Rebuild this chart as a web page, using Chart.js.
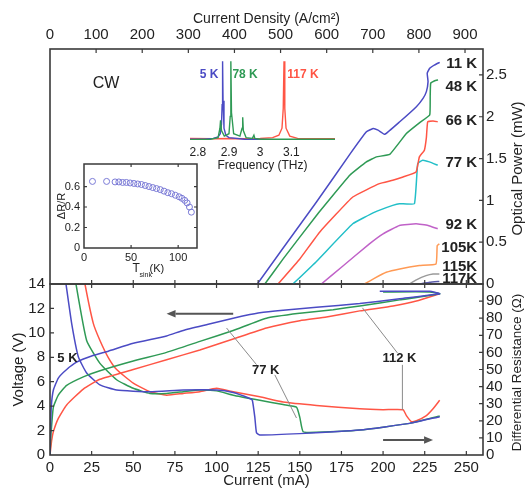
<!DOCTYPE html>
<html>
<head>
<meta charset="utf-8">
<script src="https://cdn.jsdelivr.net/npm/chart.js@4/dist/chart.umd.min.js"></script>
<style>
  html, body { margin: 0; padding: 0; background: #fff; }
  #wrap { position: relative; width: 528px; height: 493px; }
  #wrap canvas { position: absolute; left: 0; top: 0; }
</style>
</head>
<body>
<div id="wrap">
  <canvas id="panelLow" width="528" height="493"></canvas>
  <canvas id="panelHigh" width="528" height="493"></canvas>
  <canvas id="insetSpectrum" width="528" height="493"></canvas>
  <canvas id="insetDrr" width="528" height="493"></canvas>
</div>
<script>
// ---------- Bottom panel: voltage (V) and differential resistance (Ohm) vs current (mA) ----------
const voltage5K = [[0,0],[0.3,2],[0.8,4],[2,5.3],[5,6.3],[10,7.0],[16,7.6],[25,8.1],[35,8.5],[50,9.15],[70,9.75],[80,10.2],[95,10.7],[110,11.2],[120,11.5],[126,11.65],[140,11.85],[160,12.1],[186,12.4],[210,12.8],[234,13.2],[228,13.4],[198,13.4]];
const voltage77K = [[0,0],[0.5,1.5],[2,3.9],[5,4.9],[10,5.7],[20,6.4],[30,6.9],[50,7.7],[70,8.4],[90,9.3],[110,10.2],[130,11.2],[150,11.6],[170,11.9],[186,12.2],[210,12.7],[234,13.2],[228,13.35],[200,13.35]];
const voltage112K = [[0,0],[1,1.2],[2,1.9],[5,3.0],[10,4.1],[20,5.4],[30,6.2],[50,7.0],[70,7.8],[90,8.6],[110,9.5],[130,10.4],[150,11.0],[166,11.3],[186,11.8],[206,12.2],[220,12.6],[234,13.2]];
const resistance5K = [[7,118],[9.6,100],[13,77],[17,57.5],[22,48],[30,41],[40,38],[60,37],[80,38],[100,38],[110,36.5],[120,33],[121.5,32],[123,22],[124,13],[126,11.7],[150,12.5],[186,14.6],[216,18.5],[234,22.4]];
const resistance77K = [[13,118],[15.6,100],[22,67],[30,53.6],[40,44],[50,39],[60,36],[70,36],[80,37],[90,38],[100,37.5],[110,35],[126,32],[140,29.5],[148,28],[150,22],[152,13.6],[160,13.3],[186,14.6],[216,18.5],[234,22.8]];
const resistance112K = [[18,118],[21,100],[26,77],[30,67],[35,57],[40,50],[50,42],[60,37],[70,35],[80,36],[90,37],[100,39],[110,37],[126,34],[140,31],[160,29],[186,27],[200,26.5],[212,26.5],[214,23],[217,19.5],[220,20],[226,23],[230,27],[234,32]];

// ---------- Top panel: CW optical power (mW) vs current (mA) ----------
const power11K = [[124.5,0],[140,0.43],[160,0.98],[180,1.55],[190,1.82],[194,1.86],[197,1.84],[201,1.79],[210,1.94],[220,2.12],[224,2.22],[226,2.3],[227,2.42],[226.5,2.52],[228,2.58],[231,2.62],[234,2.65]];
const power48K = [[129,0],[140,0.3],[160,0.82],[180,1.3],[190,1.46],[196,1.52],[204,1.55],[214,1.8],[222,1.93],[228,2.02],[228.3,2.25],[228.6,2.4],[231,2.43],[233,2.44]];
const power66K = [[136.9,0],[150,0.3],[161.9,0.62],[181.8,1.04],[197.8,1.2],[205.8,1.24],[212,1.28],[219.8,1.34],[221.8,1.52],[224.8,1.6],[226,1.75],[226.8,1.94],[230,1.95],[232.8,1.94]];
const power77K = [[145.9,0],[160,0.27],[181.8,0.72],[195,0.86],[205.8,0.94],[209.8,0.96],[218.8,0.96],[220.8,1.44],[223.8,1.48],[227.8,1.46],[232.8,1.42]];
const power92K = [[162.9,0],[175,0.2],[191.8,0.48],[200,0.6],[209.8,0.7],[219.8,0.72],[227,0.7],[232.8,0.66]];
const power105K = [[188.8,0],[195,0.07],[201.9,0.14],[210,0.18],[221.8,0.22],[231.8,0.24],[232.5,0.46],[233.8,0.48]];
const power115K = [[215.8,0],[220,0.05],[225.8,0.1],[230,0.12],[233.8,0.12]];
const power117K = [[222,0],[228,0.02],[233.8,0.03]];
const powerLabels = ['11 K','48 K','66 K','77 K','92 K','105K','115K','117K'];
const powerLabelLevels = [2.63, 2.36, 1.95, 1.45, 0.71, 0.43, 0.21, 0.06];

// ---------- Inset: emission spectra (normalised) vs frequency (THz) ----------
const spectrum5K = [[2.775,0.01],[2.82,0.01],[2.85,0.02],[2.865,0.04],[2.872,0.08],[2.876,0.2],[2.878,0.45],[2.8795,1.0],[2.881,0.5],[2.884,0.15],[2.89,0.06],[2.9,0.03],[2.95,0.01],[3.05,0.005],[3.24,0.005]];
const spectrum78K = [[2.775,0.005],[2.84,0.01],[2.865,0.03],[2.871,0.15],[2.873,0.25],[2.876,0.12],[2.885,0.05],[2.9,0.08],[2.904,0.3],[2.906,1.0],[2.908,0.35],[2.915,0.08],[2.935,0.05],[2.942,0.15],[2.944,0.29],[2.946,0.12],[2.955,0.03],[2.975,0.02],[2.98,0.06],[2.983,0.02],[3.0,0.01],[3.24,0.01]];
const spectrum117K = [[2.775,0.02],[2.85,0.015],[2.9,0.02],[2.95,0.015],[3.0,0.02],[3.04,0.03],[3.06,0.06],[3.07,0.15],[3.074,0.4],[3.0765,1.0],[3.079,0.4],[3.083,0.15],[3.095,0.05],[3.12,0.02],[3.2,0.015],[3.24,0.015]];
const spectrumLabels = ['5 K','78 K','117 K'];

// ---------- Inset: Delta R / R vs heat-sink temperature (K) ----------
const sinkTemps = [9,24,33,37,41,45,49,53,57,61,65,69,73,77,81,85,89,93,97,101,104,107,109.5,112,114];
const deltaROverR = [0.65,0.65,0.645,0.645,0.64,0.64,0.635,0.63,0.625,0.62,0.61,0.60,0.59,0.58,0.57,0.555,0.54,0.53,0.515,0.50,0.485,0.465,0.44,0.40,0.35];

// ---------- colours / fonts ----------
const FONT = "'Liberation Sans', Arial, Helvetica, sans-serif";
const INK = '#222';
const FRAME = '#3a3a3a';
const C = {
  blue: '#4b4bc4', green: '#2f9a55', red: '#ff5545', cyan: '#22bfc8',
  magenta: '#c062c8', orange: '#ff9a55', gray: '#9a9a9a', slate: '#5a5aa8', ring: '#7a7ad6'
};
Chart.defaults.font.family = FONT;
Chart.defaults.color = INK;

// annotation text, leader lines and arrows of the bottom panel (in data units)
const lowNotes = {
  labels: [{ text: '5 K', x: 10.5, y: 7.9 }, { text: '77 K', x: 129.5, y: 6.9 }, { text: '112 K', x: 209.8, y: 7.87 }],
  leaders: [[106, 10.4, 124, 7.4], [135, 6.56, 148, 3.03], [208.6, 8.36, 187.6, 12.05], [211.6, 7.38, 211.6, 3.69]],
  arrowV: [110, 11.56, 70, 11.56],
  arrowR: [200, 8.8, 230, 8.8]
};

const pts = arr => arr.map(([x, y]) => ({ x, y }));
const xy = (xs, ys) => xs.map((x, i) => ({ x, y: ys[i] }));

function line(data, color, xID, yID, extra) {
  return Object.assign({
    data: pts(data), borderColor: color, backgroundColor: color, borderWidth: 1.5,
    showLine: true, pointRadius: 0, tension: 0.15, xAxisID: xID, yAxisID: yID
  }, extra || {});
}

function drawFrame(ctx, a, w) {
  ctx.save();
  ctx.strokeStyle = FRAME; ctx.lineWidth = w || 1.6;
  ctx.strokeRect(a.left, a.top, a.right - a.left, a.bottom - a.top);
  ctx.restore();
}
function innerTicks(scale) {
  return scale.ticks.map(t => t.value).filter(v => v > scale.min + 1e-9 && v < scale.max - 1e-9);
}
function drawTicks(ctx, scale, a, edge, len) {
  ctx.save();
  ctx.strokeStyle = FRAME; ctx.lineWidth = 1.2;
  ctx.beginPath();
  for (const v of innerTicks(scale)) {
    const p = scale.getPixelForValue(v);
    if (edge === 'bottom') { ctx.moveTo(p, a.bottom); ctx.lineTo(p, a.bottom - len); }
    else if (edge === 'top') { ctx.moveTo(p, a.top); ctx.lineTo(p, a.top + len); }
    else if (edge === 'left') { ctx.moveTo(a.left, p); ctx.lineTo(a.left + len, p); }
    else { ctx.moveTo(a.right, p); ctx.lineTo(a.right - len, p); }
  }
  ctx.stroke();
  ctx.restore();
}
function verticalText(ctx, text, x, y, font) {
  ctx.save();
  ctx.translate(x, y); ctx.rotate(-Math.PI / 2);
  ctx.font = font; ctx.fillStyle = INK; ctx.textAlign = 'center'; ctx.textBaseline = 'middle';
  ctx.fillText(text, 0, 0);
  ctx.restore();
}
function arrow(ctx, x1, y1, x2, y2) {
  const ang = Math.atan2(y2 - y1, x2 - x1), L = 9, W = 3.8;
  ctx.save();
  ctx.strokeStyle = '#555'; ctx.fillStyle = '#555'; ctx.lineWidth = 2;
  ctx.beginPath(); ctx.moveTo(x1, y1);
  ctx.lineTo(x2 - L * Math.cos(ang), y2 - L * Math.sin(ang)); ctx.stroke();
  ctx.beginPath(); ctx.moveTo(x2, y2);
  ctx.lineTo(x2 - L * Math.cos(ang) + W * Math.sin(ang), y2 - L * Math.sin(ang) - W * Math.cos(ang));
  ctx.lineTo(x2 - L * Math.cos(ang) - W * Math.sin(ang), y2 - L * Math.sin(ang) + W * Math.cos(ang));
  ctx.closePath(); ctx.fill();
  ctx.restore();
}

const base = {
  responsive: false, animation: false, events: [],
  plugins: { legend: { display: false }, tooltip: { enabled: false } }
};
const noGrid = { display: false, drawTicks: false };
const fixW = w => s => { s.width = w; };
const fixH = h => s => { s.height = h; };
const num = v => String(+Number(v).toFixed(2));

// ---------- bottom panel ----------
new Chart(document.getElementById('panelLow'), {
  type: 'scatter',
  data: { datasets: [
    line(voltage5K, C.blue, 'x', 'yV'), line(voltage77K, C.green, 'x', 'yV'), line(voltage112K, C.red, 'x', 'yV'),
    line(resistance5K, C.blue, 'x', 'yR'), line(resistance77K, C.green, 'x', 'yR'), line(resistance112K, C.red, 'x', 'yR')
  ] },
  options: Object.assign({}, base, {
    layout: { padding: { top: 284, left: 0, right: 0, bottom: 0 } },
    scales: {
      x: { type: 'linear', position: 'bottom', min: 0, max: 260, afterFit: fixH(38),
           grid: noGrid, border: { display: false },
           ticks: { stepSize: 25, includeBounds: false, autoSkip: false, padding: 4, font: { size: 15 }, color: INK, maxRotation: 0 },
           title: { display: true, text: 'Current (mA)', font: { size: 15 }, color: INK, padding: { top: 0, bottom: 3 } } },
      yV: { type: 'linear', position: 'left', min: 0, max: 14, afterFit: fixW(50),
            grid: noGrid, border: { display: false },
            ticks: { stepSize: 2, includeBounds: false, autoSkip: false, padding: 5, font: { size: 15 }, color: INK, callback: num },
            title: { display: true, text: 'Voltage (V)', font: { size: 15 }, color: INK, padding: { top: 10, bottom: 0 } } },
      yR: { type: 'linear', position: 'right', min: 0, max: 100, afterFit: fixW(45),
            grid: noGrid, border: { display: false },
            ticks: { stepSize: 10, includeBounds: false, autoSkip: false, padding: 3, font: { size: 15 }, color: INK,
                     callback: v => (v >= 100 ? null : num(v)) } }
    }
  }),
  plugins: [{
    id: 'lowDecor',
    afterDraw(chart) {
      const { ctx, chartArea: a, scales: { x, yV, yR } } = chart;
      drawFrame(ctx, a);
      drawTicks(ctx, x, a, 'bottom', 4);
      drawTicks(ctx, x, a, 'top', 4);
      drawTicks(ctx, yV, a, 'left', 4);
      drawTicks(ctx, yR, a, 'right', 4);
      ctx.save();
      ctx.strokeStyle = '#8a8a8a'; ctx.lineWidth = 1;
      ctx.beginPath();
      for (const [x1, y1, x2, y2] of lowNotes.leaders) {
        ctx.moveTo(x.getPixelForValue(x1), yV.getPixelForValue(y1));
        ctx.lineTo(x.getPixelForValue(x2), yV.getPixelForValue(y2));
      }
      ctx.stroke();
      ctx.font = 'bold 13px ' + FONT; ctx.fillStyle = INK; ctx.textAlign = 'center'; ctx.textBaseline = 'middle';
      for (const l of lowNotes.labels) ctx.fillText(l.text, x.getPixelForValue(l.x), yV.getPixelForValue(l.y));
      ctx.restore();
      const av = lowNotes.arrowV, ar = lowNotes.arrowR;
      arrow(ctx, x.getPixelForValue(av[0]), yV.getPixelForValue(av[1]), x.getPixelForValue(av[2]), yV.getPixelForValue(av[3]));
      arrow(ctx, x.getPixelForValue(ar[0]), yR.getPixelForValue(ar[1]), x.getPixelForValue(ar[2]), yR.getPixelForValue(ar[3]));
      verticalText(ctx, 'Differential Resistance (\u03A9)', 517, (a.top + a.bottom) / 2 + 3, '13.5px ' + FONT);
    }
  }]
});

// ---------- top panel ----------
const powerSeries = [power11K, power48K, power66K, power77K, power92K, power105K, power115K, power117K];
const powerColors = [C.blue, C.green, C.red, C.cyan, C.magenta, C.orange, C.gray, C.slate];
new Chart(document.getElementById('panelHigh'), {
  type: 'scatter',
  data: { datasets: powerSeries.map((s, i) => line(s, powerColors[i], 'x', 'yP', { tension: 0.1 })) },
  options: Object.assign({}, base, {
    layout: { padding: { top: 0, left: 50, right: 0, bottom: 209 } },
    scales: {
      x: { type: 'linear', position: 'bottom', min: 0, max: 260, display: false, ticks: { stepSize: 25, includeBounds: false, autoSkip: false } },
      xD: { type: 'linear', position: 'top', min: 0, max: 939, afterFit: fixH(49),
            grid: noGrid, border: { display: false },
            ticks: { stepSize: 100, includeBounds: false, autoSkip: false, padding: 5, font: { size: 15 }, color: INK, maxRotation: 0 },
            title: { display: true, text: 'Current Density (A/cm\u00B2)', font: { size: 14 }, color: INK, padding: { top: 11, bottom: 0 } } },
      yP: { type: 'linear', position: 'right', min: 0, max: 2.81, afterFit: fixW(45),
            grid: noGrid, border: { display: false },
            ticks: { stepSize: 0.5, includeBounds: false, autoSkip: false, padding: 3, font: { size: 15 }, color: INK, callback: num } }
    }
  }),
  plugins: [{
    id: 'highDecor',
    afterDraw(chart) {
      const { ctx, chartArea: a, scales: { x, xD, yP } } = chart;
      ctx.save();
      ctx.font = 'bold 15px ' + FONT; ctx.fillStyle = INK; ctx.textAlign = 'right'; ctx.textBaseline = 'middle';
      powerLabels.forEach((t, i) => ctx.fillText(t, x.getPixelForValue(256.5), yP.getPixelForValue(powerLabelLevels[i])));
      ctx.font = '16px ' + FONT; ctx.textAlign = 'center';
      ctx.fillText('CW', x.getPixelForValue(33.6), yP.getPixelForValue(2.4));
      ctx.restore();
      drawFrame(ctx, a);
      drawTicks(ctx, xD, a, 'top', 4);
      drawTicks(ctx, x, a, 'bottom', 4);
      drawTicks(ctx, yP, a, 'right', 4);
      verticalText(ctx, 'Optical Power (mW)', 518, (a.top + a.bottom) / 2 + 2, '15px ' + FONT);
    }
  }]
});

// ---------- spectra inset ----------
new Chart(document.getElementById('insetSpectrum'), {
  type: 'scatter',
  data: { datasets: [
    line(spectrum78K, C.green, 'x', 'y', { tension: 0, borderWidth: 1.4 }),
    line(spectrum5K, C.blue, 'x', 'y', { tension: 0, borderWidth: 1.4 }),
    line(spectrum117K, C.red, 'x', 'y', { tension: 0, borderWidth: 1.4 })
  ] },
  options: Object.assign({}, base, {
    layout: { padding: { top: 55, left: 190, right: 193, bottom: 320 } },
    scales: {
      x: { type: 'linear', position: 'bottom', min: 2.775, max: 3.24, afterFit: fixH(33),
           grid: noGrid, border: { display: false },
           ticks: { stepSize: 0.1, includeBounds: false, autoSkip: false, padding: 5, font: { size: 12 }, color: INK, maxRotation: 0,
                    callback: v => (v > 3.15 ? null : String(+Number(v).toFixed(1))) },
           title: { display: true, text: 'Frequency (THz)', font: { size: 12 }, color: INK, padding: { top: 0, bottom: 0 } } },
      y: { type: 'linear', min: 0, max: 1.08, display: false }
    }
  }),
  plugins: [{
    id: 'specDecor',
    afterDraw(chart) {
      const { ctx, scales: { x, y } } = chart;
      ctx.save();
      ctx.font = 'bold 12px ' + FONT; ctx.textBaseline = 'middle';
      ctx.fillStyle = C.blue; ctx.textAlign = 'right';
      ctx.fillText(spectrumLabels[0], x.getPixelForValue(2.866), y.getPixelForValue(0.83));
      ctx.fillStyle = C.green; ctx.textAlign = 'left';
      ctx.fillText(spectrumLabels[1], x.getPixelForValue(2.911), y.getPixelForValue(0.83));
      ctx.fillStyle = C.red;
      ctx.fillText(spectrumLabels[2], x.getPixelForValue(3.087), y.getPixelForValue(0.83));
      ctx.restore();
    }
  }]
});

// ---------- Delta R / R inset ----------
new Chart(document.getElementById('insetDrr'), {
  type: 'scatter',
  data: { datasets: [{
    data: xy(sinkTemps, deltaROverR), showLine: false, pointStyle: 'circle', pointRadius: 3,
    borderColor: C.ring, backgroundColor: 'rgba(0,0,0,0)', borderWidth: 1, xAxisID: 'x', yAxisID: 'y'
  }] },
  options: Object.assign({}, base, {
    layout: { padding: { top: 164, left: 50, right: 331, bottom: 231 } },
    scales: {
      x: { type: 'linear', position: 'bottom', min: 0, max: 120, afterFit: fixH(14),
           grid: noGrid, border: { display: false },
           ticks: { stepSize: 50, includeBounds: false, autoSkip: false, padding: 3, font: { size: 11 }, color: INK, maxRotation: 0 } },
      y: { type: 'linear', position: 'left', min: 0, max: 0.82, afterFit: fixW(34),
           grid: noGrid, border: { display: false },
           ticks: { stepSize: 0.2, includeBounds: false, autoSkip: false, padding: 4, font: { size: 11 }, color: INK,
                    callback: v => (v > 0.7 ? null : num(v)) },
           title: { display: true, text: '\u0394R/R', font: { size: 11 }, color: INK, padding: { top: 5, bottom: 0 } } }
    }
  }),
  plugins: [{
    id: 'drrDecor',
    afterDraw(chart) {
      const { ctx, chartArea: a, scales: { x, y } } = chart;
      drawFrame(ctx, a, 1.5);
      drawTicks(ctx, x, a, 'top', 3);
      drawTicks(ctx, x, a, 'bottom', 3);
      drawTicks(ctx, y, a, 'left', 3);
      drawTicks(ctx, y, a, 'right', 3);
      const cx = (a.left + a.right) / 2;
      ctx.save();
      ctx.fillStyle = INK; ctx.textBaseline = 'alphabetic'; ctx.textAlign = 'left';
      ctx.font = '12px ' + FONT; ctx.fillText('T', cx - 8, a.bottom + 24);
      ctx.font = '7px ' + FONT; ctx.fillText('sink', cx - 1, a.bottom + 29);
      ctx.font = '11px ' + FONT; ctx.fillText('(K)', cx + 9, a.bottom + 24);
      ctx.restore();
    }
  }]
});
</script>
</body>
</html>
